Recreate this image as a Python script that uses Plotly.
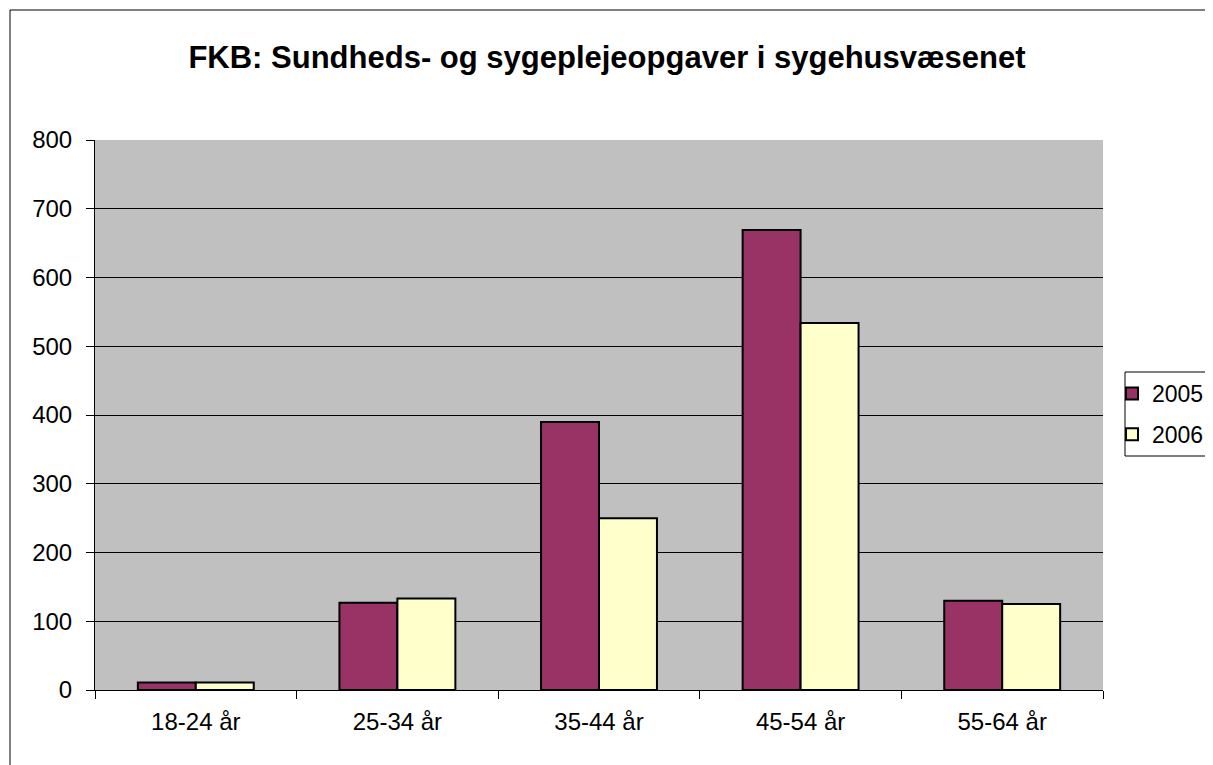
import plotly.graph_objects as go

categories = ["18-24 år", "25-34 år", "35-44 år", "45-54 år", "55-64 år"]
values_2005 = [11, 127, 390, 669, 130]
values_2006 = [11, 133, 250, 534, 125]
y_ticks = [0, 100, 200, 300, 400, 500, 600, 700, 800]

OFF = 8  # default page body margin
W, H = 1213 - OFF, 765 - OFF
PL, PR, PT, PB = 95, 1103, 140, 690  # target plot box in page pixels
L, T = PL - OFF, PT - OFF
R, B = W - (PR - OFF), H - (PB - OFF)
pw, ph = W - L - R, H - T - B

fig = go.Figure()
fig.add_trace(go.Bar(x=categories, y=values_2005, name="2005", legendgroup="a",
                     marker=dict(color="#993366", line=dict(color="black", width=2))))
fig.add_trace(go.Bar(x=categories, y=values_2006, name="2006", legendgroup="b",
                     marker=dict(color="#FFFFCC", line=dict(color="black", width=2))))

fig.update_layout(
    width=W, height=H,
    margin=dict(l=L, r=R, t=T, b=B, autoexpand=False),
    paper_bgcolor="white",
    plot_bgcolor="#C0C0C0",
    barmode="group",
    bargap=0.425,
    bargroupgap=0,
    font=dict(family="Liberation Sans, Arial, sans-serif", size=24, color="black"),
    title=dict(text="<b>FKB: Sundheds- og sygeplejeopgaver i sygehusvæsenet</b>",
               x=(607 - OFF) / W, xanchor="center", xref="container",
               y=1 - (57 - OFF) / H, yanchor="middle", yref="container",
               font=dict(size=31, color="black")),
    xaxis=dict(type="category", tickson="boundaries", ticks="outside", ticklen=8,
               tickcolor="black", showline=True, linecolor="black", linewidth=1,
               showgrid=False, tickfont=dict(size=24), ticklabelstandoff=10),
    yaxis=dict(range=[0, 800], tickvals=y_ticks, ticks="outside", ticklen=8,
               tickcolor="black", showline=True, linecolor="black", linewidth=1,
               showgrid=True, gridcolor="black", gridwidth=1, zeroline=False,
               tickfont=dict(size=24), ticklabelstandoff=9),
    legend=dict(x=(1112 - PL) / pw, y=(PB - 372) / ph, xanchor="left", yanchor="top",
                bgcolor="rgba(0,0,0,0)", borderwidth=0,
                font=dict(size=23), tracegroupgap=8, traceorder="grouped"),
    showlegend=True,
)

# outer chart border (extends beyond the window on right/bottom)
fig.add_shape(type="rect", xref="paper", yref="paper",
              x0=(2 - L) / pw, x1=(W + 20 - L) / pw,
              y0=-(H + 20 - (H - B)) / ph, y1=((H - B) - 2) / ph,
              line=dict(color="black", width=1), fillcolor="rgba(0,0,0,0)", layer="below")

# legend frame (cut off at the right edge as in the reference)
fig.add_shape(type="rect", xref="paper", yref="paper",
              x0=(1125 - PL) / pw, x1=(1240 - PL) / pw,
              y0=(PB - 456) / ph, y1=(PB - 372) / ph,
              line=dict(color="black", width=1), fillcolor="white", layer="below")

fig.write_html("out.html")
